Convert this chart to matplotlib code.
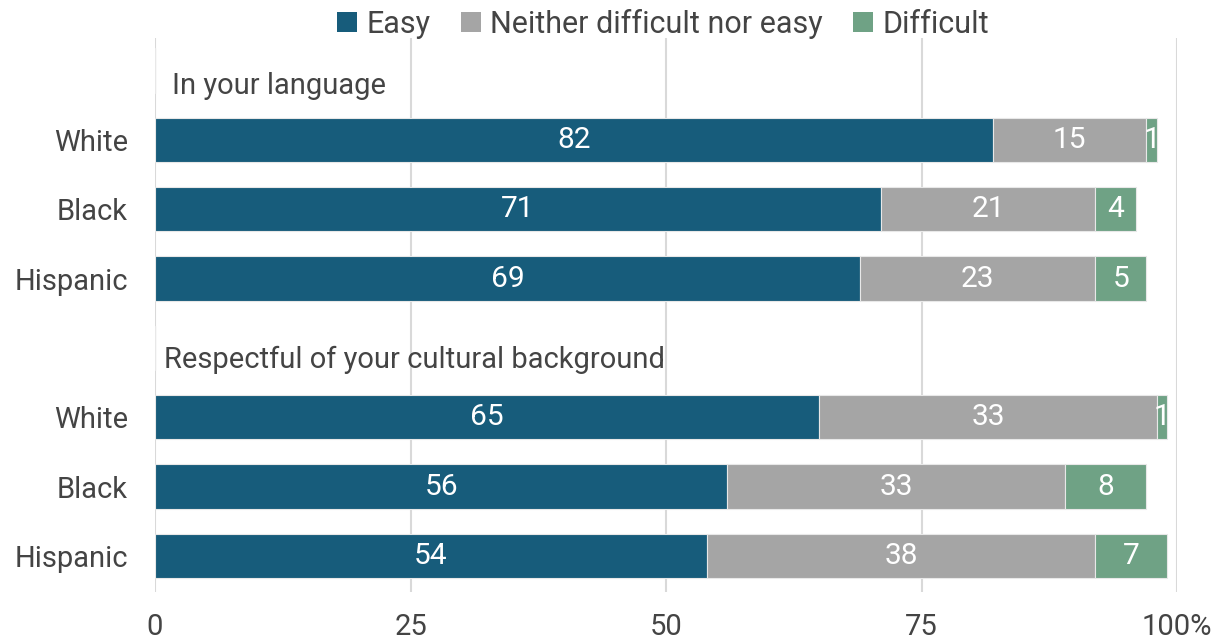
import numpy as np
import matplotlib.pyplot as plt

plt.rcParams['font.family'] = ['Roboto', 'DejaVu Sans']

rows = ['', 'White', 'Black', 'Hispanic', '', 'White', 'Black', 'Hispanic']
groups = ['In your language', 'Respectful of your cultural background']
easy = [np.nan, 82, 71, 69, np.nan, 65, 56, 54]
neither = [np.nan, 15, 21, 23, np.nan, 33, 33, 38]
difficult = [np.nan, 1, 4, 5, np.nan, 1, 8, 7]
series = ['Easy', 'Neither difficult nor easy', 'Difficult']
colors = ['#175c7b', '#a5a5a5', '#6fa285']
txt = '#444444'

fig = plt.figure(figsize=(12.28, 6.41), dpi=100)
ax = fig.add_axes([155/1228, 1-592/641, 1022/1228, 554/641])

y = np.arange(len(rows))
left = np.zeros(len(rows))
for vals, name, c in zip([easy, neither, difficult], series, colors):
    v = np.array(vals, dtype=float)
    ax.barh(y, np.nan_to_num(v), left=left, height=0.64, color=c,
            edgecolor='#e8e8e8', linewidth=0.8, label=name, zorder=3)
    for yi, l, vi in zip(y, left, v):
        if not np.isnan(vi):
            ax.text(l + vi/2, yi, f'{vi:.0f}', ha='center', va='center',
                    color='white', fontsize=21.5, zorder=4)
    left = left + np.nan_to_num(v)

ax.text(1.7, 0.22, groups[0], ha='left', va='center', color=txt, fontsize=21)
ax.text(0.9, 4.17, groups[1], ha='left', va='center', color=txt, fontsize=21)

ax.set_xlim(0, 100)
ax.set_ylim(7.52, -0.47)
ax.set_yticks(y)
ax.set_yticklabels(rows)
ax.set_xticks([0, 25, 50, 75, 100])
ax.set_xticklabels(['0', '25', '50', '75', '100%'])
ax.tick_params(axis='both', length=0, labelsize=21, labelcolor=txt)
ax.tick_params(axis='x', pad=15)
ax.tick_params(axis='y', pad=19.5)
ax.grid(axis='x', color='#d9d9d9', linewidth=1.5, zorder=0)
for s in ax.spines.values():
    s.set_visible(False)

leg = fig.legend(loc='center', bbox_to_anchor=(663/1228, 1-24/641), ncol=3,
                 frameon=False, fontsize=22, handlelength=0.65, handleheight=0.65,
                 handletextpad=0.3, columnspacing=1.0, labelcolor=txt)
for h in leg.legend_handles:
    h.set_edgecolor('none')

fig.savefig('out.png', dpi=100)
